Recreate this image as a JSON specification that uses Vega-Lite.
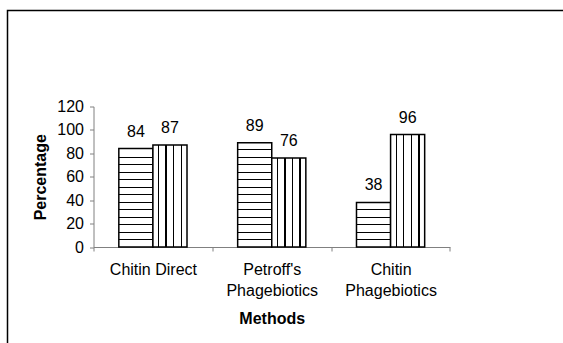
{
  "$schema": "https://vega.github.io/schema/vega-lite/v6.json",
  "width": 555.5,
  "height": 332.5,
  "autosize": {"type": "none"},
  "padding": {"left": 7.5, "top": 10.5, "right": 0, "bottom": 0},
  "background": "white",
  "config": {
    "view": {"stroke": "#000", "strokeWidth": 1.5, "strokeDash": [555.5, 888, 400], "fill": "white"},
    "font": "Liberation Sans",
    "axis": {
      "grid": false,
      "domainColor": "#808080",
      "tickColor": "#808080",
      "labelColor": "#000",
      "titleColor": "#000",
      "labelFont": "Liberation Sans",
      "titleFont": "Liberation Sans",
      "labelFontSize": 16,
      "titleFontSize": 16,
      "titleFontWeight": "bold",
      "tickSize": 4
    }
  },
  "data": {
    "values": [
      {"method": "Chitin Direct", "series": "A", "value": 84},
      {"method": "Chitin Direct", "series": "B", "value": 87},
      {"method": "Petroff's Phagebiotics", "series": "A", "value": 89},
      {"method": "Petroff's Phagebiotics", "series": "B", "value": 76},
      {"method": "Chitin Phagebiotics", "series": "A", "value": 38},
      {"method": "Chitin Phagebiotics", "series": "B", "value": 96}
    ]
  },
  "encoding": {
    "x": {
      "field": "method",
      "type": "nominal",
      "sort": ["Chitin Direct", "Petroff's Phagebiotics", "Chitin Phagebiotics"],
      "scale": {"range": [86, 442.5], "paddingInner": 0, "paddingOuter": 0},
      "axis": {
        "title": "Methods",
        "offset": -96,
        "tickBand": "extent",
        "labelAngle": 0,
        "labelPadding": 10.5,
        "labelLineHeight": 21,
        "labelExpr": "isValid(datum.value) ? (datum.value == 'Chitin Direct' ? datum.value : split(datum.value, ' ')) : ''",
        "titlePadding": 12
      }
    },
    "xOffset": {
      "field": "series",
      "type": "nominal",
      "scale": {"paddingInner": 0, "paddingOuter": 0.743}
    },
    "y": {
      "field": "value",
      "type": "quantitative",
      "scale": {"domain": [0, 120], "range": [236.5, 95.9], "nice": false, "zero": true},
      "axis": {
        "title": "Percentage",
        "values": [0, 20, 40, 60, 80, 100, 120],
        "offset": -86,
        "labelPadding": 6,
        "titlePadding": 8
      }
    }
  },
  "layer": [
    {
      "mark": {"type": "bar", "stroke": "#000", "strokeWidth": 1.5},
      "encoding": {
        "fill": {
          "condition": [
            {
              "test": "datum.series == 'B'",
              "value": {
                "gradient": "linear", "x1": 0, "y1": 0, "x2": 1, "y2": 0,
                "stops": [
                  {"offset": 0, "color": "white"},
                  {"offset": 0.1481, "color": "white"}, {"offset": 0.1481, "color": "black"}, {"offset": 0.1863, "color": "black"}, {"offset": 0.1863, "color": "white"},
                  {"offset": 0.3681, "color": "white"}, {"offset": 0.3681, "color": "black"}, {"offset": 0.4063, "color": "black"}, {"offset": 0.4063, "color": "white"},
                  {"offset": 0.5911, "color": "white"}, {"offset": 0.5911, "color": "black"}, {"offset": 0.6292, "color": "black"}, {"offset": 0.6292, "color": "white"},
                  {"offset": 0.8111, "color": "white"}, {"offset": 0.8111, "color": "black"}, {"offset": 0.8492, "color": "black"}, {"offset": 0.8492, "color": "white"},
                  {"offset": 1, "color": "white"}
                ]
              }
            },
            {
              "test": "datum.method == 'Chitin Direct'",
              "value": {
                "gradient": "linear", "x1": 0, "y1": 1, "x2": 0, "y2": 0,
                "stops": [
                  {"offset": 0, "color": "white"},
                  {"offset": 0.0696, "color": "white"}, {"offset": 0.0696, "color": "black"}, {"offset": 0.0828, "color": "black"}, {"offset": 0.0828, "color": "white"},
                  {"offset": 0.1407, "color": "white"}, {"offset": 0.1407, "color": "black"}, {"offset": 0.1539, "color": "black"}, {"offset": 0.1539, "color": "white"},
                  {"offset": 0.2220, "color": "white"}, {"offset": 0.2220, "color": "black"}, {"offset": 0.2352, "color": "black"}, {"offset": 0.2352, "color": "white"},
                  {"offset": 0.2931, "color": "white"}, {"offset": 0.2931, "color": "black"}, {"offset": 0.3063, "color": "black"}, {"offset": 0.3063, "color": "white"},
                  {"offset": 0.3744, "color": "white"}, {"offset": 0.3744, "color": "black"}, {"offset": 0.3876, "color": "black"}, {"offset": 0.3876, "color": "white"},
                  {"offset": 0.4455, "color": "white"}, {"offset": 0.4455, "color": "black"}, {"offset": 0.4587, "color": "black"}, {"offset": 0.4587, "color": "white"},
                  {"offset": 0.5268, "color": "white"}, {"offset": 0.5268, "color": "black"}, {"offset": 0.5400, "color": "black"}, {"offset": 0.5400, "color": "white"},
                  {"offset": 0.5979, "color": "white"}, {"offset": 0.5979, "color": "black"}, {"offset": 0.6111, "color": "black"}, {"offset": 0.6111, "color": "white"},
                  {"offset": 0.6792, "color": "white"}, {"offset": 0.6792, "color": "black"}, {"offset": 0.6924, "color": "black"}, {"offset": 0.6924, "color": "white"},
                  {"offset": 0.7503, "color": "white"}, {"offset": 0.7503, "color": "black"}, {"offset": 0.7635, "color": "black"}, {"offset": 0.7635, "color": "white"},
                  {"offset": 0.8316, "color": "white"}, {"offset": 0.8316, "color": "black"}, {"offset": 0.8448, "color": "black"}, {"offset": 0.8448, "color": "white"},
                  {"offset": 0.9027, "color": "white"}, {"offset": 0.9027, "color": "black"}, {"offset": 0.9159, "color": "black"}, {"offset": 0.9159, "color": "white"},
                  {"offset": 1, "color": "white"}
                ]
              }
            },
            {
              "test": "datum.method == \"Petroff's Phagebiotics\"",
              "value": {
                "gradient": "linear", "x1": 0, "y1": 1, "x2": 0, "y2": 0,
                "stops": [
                  {"offset": 0, "color": "white"},
                  {"offset": 0.0657, "color": "white"}, {"offset": 0.0657, "color": "black"}, {"offset": 0.0782, "color": "black"}, {"offset": 0.0782, "color": "white"},
                  {"offset": 0.1328, "color": "white"}, {"offset": 0.1328, "color": "black"}, {"offset": 0.1453, "color": "black"}, {"offset": 0.1453, "color": "white"},
                  {"offset": 0.2095, "color": "white"}, {"offset": 0.2095, "color": "black"}, {"offset": 0.2220, "color": "black"}, {"offset": 0.2220, "color": "white"},
                  {"offset": 0.2767, "color": "white"}, {"offset": 0.2767, "color": "black"}, {"offset": 0.2891, "color": "black"}, {"offset": 0.2891, "color": "white"},
                  {"offset": 0.3534, "color": "white"}, {"offset": 0.3534, "color": "black"}, {"offset": 0.3659, "color": "black"}, {"offset": 0.3659, "color": "white"},
                  {"offset": 0.4205, "color": "white"}, {"offset": 0.4205, "color": "black"}, {"offset": 0.4330, "color": "black"}, {"offset": 0.4330, "color": "white"},
                  {"offset": 0.4972, "color": "white"}, {"offset": 0.4972, "color": "black"}, {"offset": 0.5097, "color": "black"}, {"offset": 0.5097, "color": "white"},
                  {"offset": 0.5644, "color": "white"}, {"offset": 0.5644, "color": "black"}, {"offset": 0.5768, "color": "black"}, {"offset": 0.5768, "color": "white"},
                  {"offset": 0.6411, "color": "white"}, {"offset": 0.6411, "color": "black"}, {"offset": 0.6536, "color": "black"}, {"offset": 0.6536, "color": "white"},
                  {"offset": 0.7082, "color": "white"}, {"offset": 0.7082, "color": "black"}, {"offset": 0.7207, "color": "black"}, {"offset": 0.7207, "color": "white"},
                  {"offset": 0.7849, "color": "white"}, {"offset": 0.7849, "color": "black"}, {"offset": 0.7974, "color": "black"}, {"offset": 0.7974, "color": "white"},
                  {"offset": 0.8521, "color": "white"}, {"offset": 0.8521, "color": "black"}, {"offset": 0.8645, "color": "black"}, {"offset": 0.8645, "color": "white"},
                  {"offset": 0.9288, "color": "white"}, {"offset": 0.9288, "color": "black"}, {"offset": 0.9412, "color": "black"}, {"offset": 0.9412, "color": "white"},
                  {"offset": 1, "color": "white"}
                ]
              }
            }
          ],
          "value": {
            "gradient": "linear", "x1": 0, "y1": 1, "x2": 0, "y2": 0,
            "stops": [
              {"offset": 0, "color": "white"},
              {"offset": 0.1539, "color": "white"}, {"offset": 0.1539, "color": "black"}, {"offset": 0.1831, "color": "black"}, {"offset": 0.1831, "color": "white"},
              {"offset": 0.3111, "color": "white"}, {"offset": 0.3111, "color": "black"}, {"offset": 0.3403, "color": "black"}, {"offset": 0.3403, "color": "white"},
              {"offset": 0.4908, "color": "white"}, {"offset": 0.4908, "color": "black"}, {"offset": 0.5200, "color": "black"}, {"offset": 0.5200, "color": "white"},
              {"offset": 0.6480, "color": "white"}, {"offset": 0.6480, "color": "black"}, {"offset": 0.6772, "color": "black"}, {"offset": 0.6772, "color": "white"},
              {"offset": 0.8277, "color": "white"}, {"offset": 0.8277, "color": "black"}, {"offset": 0.8569, "color": "black"}, {"offset": 0.8569, "color": "white"},
              {"offset": 1, "color": "white"}
            ]
          }
        }
      }
    },
    {
      "mark": {"type": "text", "dy": -12, "baseline": "alphabetic", "align": "center", "fontSize": 16, "font": "Liberation Sans", "color": "#000"},
      "encoding": {"text": {"field": "value", "type": "quantitative"}}
    }
  ]
}
